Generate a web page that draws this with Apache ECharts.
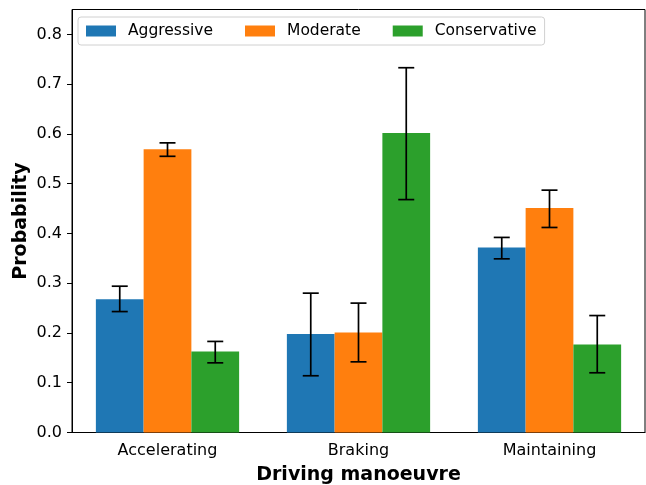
<!DOCTYPE html>
<html>
<head>
<meta charset="utf-8">
<script src="https://cdn.jsdelivr.net/npm/echarts@6/dist/echarts.min.js"></script>
<style>html,body{margin:0;padding:0;background:#fff}#c{width:646px;height:485px}</style>
</head>
<body>
<div id="c"></div>
<script>
const categories = ['Accelerating', 'Braking', 'Maintaining'];
const seriesNames = ['Aggressive', 'Moderate', 'Conservative'];
const aggressive = [0.268, 0.198, 0.372];
const moderate = [0.569, 0.201, 0.451];
const conservative = [0.163, 0.602, 0.177];
const aggressiveLow = [0.243, 0.114, 0.349];
const aggressiveHigh = [0.294, 0.280, 0.392];
const moderateLow = [0.555, 0.142, 0.412];
const moderateHigh = [0.582, 0.260, 0.487];
const conservativeLow = [0.140, 0.468, 0.120];
const conservativeHigh = [0.183, 0.733, 0.235];
const yTicks = [0, 0.1, 0.2, 0.3, 0.4, 0.5, 0.6, 0.7, 0.8];

const colors = ['#1f77b4', '#ff7f0e', '#2ca02c'];
const values = [aggressive, moderate, conservative];
const lows = [aggressiveLow, moderateLow, conservativeLow];
const highs = [aggressiveHigh, moderateHigh, conservativeHigh];
const FONT = 'DejaVu Sans';

const chart = echarts.init(document.getElementById('c'), null, {renderer: 'canvas'});

const series = [];
seriesNames.forEach((name, i) => {
  series.push({
    name: name,
    type: 'bar',
    data: values[i],
    itemStyle: {color: colors[i]},
    barWidth: '25%',
    barGap: '0%',
    animation: false
  });
});
seriesNames.forEach((name, i) => {
  series.push({
    type: 'custom',
    name: name + ' err',
    data: categories.map((c, k) => [k, lows[i][k], highs[i][k]]),
    encode: {x: 0, y: [1, 2]},
    z: 10,
    animation: false,
    silent: true,
    renderItem: function (params, api) {
      const k = api.value(0);
      const band = api.size([1, 0])[0];
      const off = (i - 1) * band * 0.25;
      const lo = api.coord([k, api.value(1)]);
      const hi = api.coord([k, api.value(2)]);
      const x = lo[0] + off;
      const cap = 8;
      const style = {stroke: '#000', lineWidth: 1.7, fill: null};
      return {
        type: 'group',
        children: [
          {type: 'line', shape: {x1: x, y1: lo[1], x2: x, y2: hi[1]}, style: style},
          {type: 'line', shape: {x1: x - cap, y1: lo[1], x2: x + cap, y2: lo[1]}, style: style},
          {type: 'line', shape: {x1: x - cap, y1: hi[1], x2: x + cap, y2: hi[1]}, style: style}
        ]
      };
    }
  });
});

chart.setOption({
  animation: false,
  grid: {left: 72, right: 1, top: 9.5, bottom: 52.5, show: true, borderColor: '#000', borderWidth: 1,
    backgroundColor: 'transparent', containLabel: false, outerBoundsMode: 'none'},
  legend: {
    data: seriesNames,
    left: 78, top: 17,
    orient: 'horizontal',
    itemWidth: 30, itemHeight: 11, itemGap: 32,
    padding: [6, 8, 6, 8],
    borderColor: '#d0d0d0', borderWidth: 1, borderRadius: 3,
    backgroundColor: 'rgba(255,255,255,0.8)',
    icon: 'rect',
    textStyle: {fontFamily: FONT, fontSize: 15.5, color: '#000', padding: [0, 0, 0, 7]}
  },
  xAxis: {
    type: 'category',
    data: categories,
    name: 'Driving manoeuvre',
    nameLocation: 'middle',
    nameGap: 33,
    nameMoveOverlap: false,
    nameTextStyle: {fontFamily: FONT, fontSize: 19, fontWeight: 'bold', color: '#000'},
    axisLine: {lineStyle: {color: '#000', width: 1}},
    axisTick: {alignWithLabel: true, length: 5, lineStyle: {color: '#000'}},
    axisLabel: {fontFamily: FONT, fontSize: 16, color: '#000', margin: 10},
    splitLine: {show: false}
  },
  yAxis: {
    type: 'value',
    min: 0, max: 0.85,
    name: 'Probability',
    nameLocation: 'middle',
    nameGap: 41,
    nameMoveOverlap: false,
    nameRotate: 90,
    nameTextStyle: {fontFamily: FONT, fontSize: 19, fontWeight: 'bold', color: '#000'},
    axisLine: {show: true, lineStyle: {color: '#000', width: 1}},
    axisTick: {show: true, length: 5, lineStyle: {color: '#000'}, customValues: yTicks},
    axisLabel: {fontFamily: FONT, fontSize: 16, color: '#000', margin: 10, customValues: yTicks,
      formatter: v => v.toFixed(1)},
    splitLine: {show: false}
  },
  series: series
});
</script>
</body>
</html>
